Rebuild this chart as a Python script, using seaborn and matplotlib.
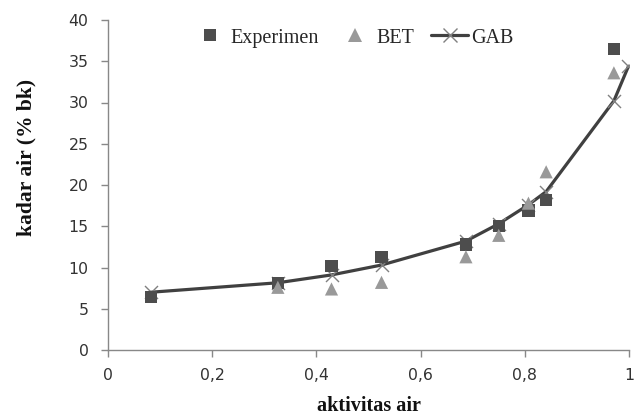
import matplotlib
matplotlib.use("Agg")
import matplotlib.pyplot as plt
import seaborn as sns
import pandas as pd
from matplotlib.lines import Line2D
from matplotlib.ticker import FuncFormatter

# Data
aw_exp = [0.082, 0.326, 0.429, 0.525, 0.687, 0.750, 0.807, 0.841, 0.971]
kadar_exp = [6.4, 8.1, 10.2, 11.3, 12.8, 15.0, 16.9, 18.2, 36.5]

aw_bet = [0.326, 0.429, 0.525, 0.687, 0.750, 0.807, 0.841, 0.971]
kadar_bet = [7.6, 7.4, 8.2, 11.3, 13.9, 17.8, 21.6, 33.6]

aw_gab = [0.082, 0.326, 0.429, 0.525, 0.687, 0.750, 0.807, 0.841, 0.971, 0.999]
kadar_gab = [7.0, 8.15, 9.1, 10.3, 13.2, 15.3, 17.6, 19.2, 30.2, 34.4]

x_ticks = [0, 0.2, 0.4, 0.6, 0.8, 1.0]
y_ticks = [0, 5, 10, 15, 20, 25, 30, 35, 40]
series_names = ["Experimen", "BET", "GAB"]

df_exp = pd.DataFrame({"aw": aw_exp, "kadar": kadar_exp})
df_bet = pd.DataFrame({"aw": aw_bet, "kadar": kadar_bet})
df_gab = pd.DataFrame({"aw": aw_gab, "kadar": kadar_gab})

sns.set_style("white")
plt.rcParams["font.family"] = ["DejaVu Sans"]

fig = plt.figure(figsize=(6.4, 4.16), dpi=100)
ax = fig.add_axes([108/640, 66/416, (629-108)/640, (350-20)/416])

c_exp = "#4d4d4d"
c_bet = "#999999"
c_line = "#404040"
c_x = "#808080"

sns.lineplot(data=df_gab, x="aw", y="kadar", ax=ax, color=c_line, linewidth=2.3,
             sort=True, zorder=2, legend=False)
sns.scatterplot(data=df_gab, x="aw", y="kadar", ax=ax, marker="x", s=88,
                color=c_x, linewidth=1.0, zorder=2.5, legend=False)
sns.scatterplot(data=df_exp, x="aw", y="kadar", ax=ax, marker="s", s=80,
                color=c_exp, edgecolor="none", linewidth=0, zorder=3, legend=False)
sns.scatterplot(data=df_bet, x="aw", y="kadar", ax=ax, marker="^", s=90,
                color=c_bet, edgecolor="none", linewidth=0, zorder=4, legend=False)

ax.set_xlim(0, 1)
ax.set_ylim(0, 40)
ax.set_xticks(x_ticks)
ax.set_yticks(y_ticks)
ax.xaxis.set_major_formatter(FuncFormatter(lambda v, p: ("%g" % v).replace(".", ",")))

for s in ["top", "right"]:
    ax.spines[s].set_visible(False)
for s in ["left", "bottom"]:
    ax.spines[s].set_color("#888888")
    ax.spines[s].set_linewidth(1.0)
ax.tick_params(axis="both", direction="out", length=5, width=1, color="#888888",
               labelsize=11.3, labelcolor="#333333", left=True, bottom=True)
ax.tick_params(axis="y", pad=9)
ax.tick_params(axis="x", pad=8)

ax.set_xlabel("aktivitas air", fontsize=14.5, fontweight="bold",
              family="Liberation Serif", color="#111111")
ax.xaxis.set_label_coords(0.5, -0.14)
ax.set_ylabel("kadar air (% bk)", fontsize=15.5, fontweight="bold",
              family="Liberation Serif", color="#111111")
ax.yaxis.set_label_coords(-0.137, 0.585)

handles = [
    Line2D([], [], linestyle="none", marker="s", markersize=9, color=c_exp, markeredgewidth=0),
    Line2D([], [], linestyle="none", marker="^", markersize=9.5, color=c_bet, markeredgewidth=0),
    Line2D([], [], color=c_line, linewidth=2.3, marker="x", markersize=9.4,
           markeredgecolor=c_x, markeredgewidth=1.0),
]
leg = ax.legend(handles, series_names, ncol=3, frameon=False,
                loc="center", bbox_to_anchor=(0.469, (350 - 38) / 330),
                prop={"family": "Liberation Serif", "size": 14.5},
                handlelength=1.8, handletextpad=0.15, columnspacing=0.87,
                borderpad=0, borderaxespad=0)

fig.savefig("out.png", dpi=100)
